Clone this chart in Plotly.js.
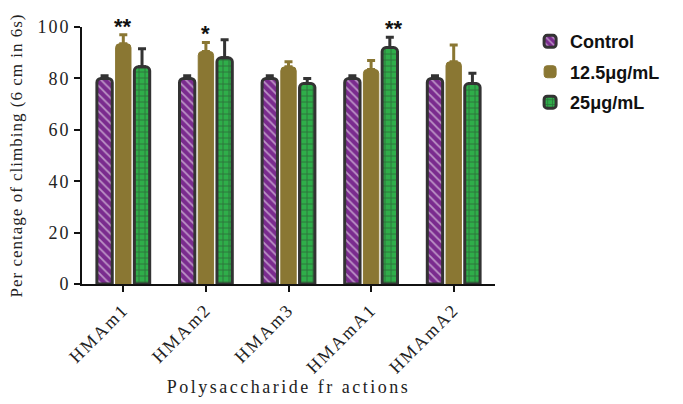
<!DOCTYPE html>
<html>
<head>
<meta charset="utf-8">
<script src="https://cdn.plot.ly/plotly-3.0.1.min.js"></script>
<style>
html,body{margin:0;padding:0;background:#fff;}
#chart{width:683px;height:404px;}
#chart .xtick text{letter-spacing:2px;}
#chart .ytick text{letter-spacing:2px;}
#chart .xtitle{letter-spacing:2.5px;}
#chart .ytitle{letter-spacing:1px;}
</style>
</head>
<body>
<div id="chart"></div>
<script>
const categories = ["HMAm1", "HMAm2", "HMAm3", "HMAmA1", "HMAmA2"];
const seriesNames = ["Control", "12.5\u03bcg/mL", "25\u03bcg/mL"];
const controlVals = [80, 80, 80, 80, 80];
const controlErr = [1, 1, 1, 1, 1];
const lowVals = [93.5, 90.5, 84.5, 83.5, 86.5];
const lowErr = [3.5, 3.5, 2.0, 3.5, 6.5];
const highVals = [84.5, 88, 78, 92, 78];
const highErr = [7, 7, 2, 4, 4];
const sigLabels = [["**", "*", "", "", ""], ["", "", "", "**", ""]]; // for 12.5 and 25 series

const borderCol = "#333333";
const traces = [
  {
    type: "bar", name: "<b>" + seriesNames[0] + "</b>", legendgroup: "a", x: categories, y: controlVals,
    error_y: {type: "data", array: controlErr, arrayminus: controlErr.map(() => 0), symmetric: false, color: borderCol, thickness: 3, width: 4},
    marker: {color: "#7a2b8e", line: {color: borderCol, width: 3}, cornerradius: 4,
      pattern: {shape: "\\", bgcolor: "#7a2b8e", fgcolor: "#ffffff", size: 6, solidity: 0.3, fillmode: "overlay"}}
  },
  {
    type: "bar", name: "<b>" + seriesNames[1] + "</b>", legendgroup: "b", x: categories, y: lowVals,
    error_y: {type: "data", array: lowErr, arrayminus: lowErr.map(() => 0), symmetric: false, color: "#8a7733", thickness: 3, width: 4},
    marker: {color: "#8a7733", line: {color: "#8a7733", width: 1}, cornerradius: 4}
  },
  {
    type: "bar", name: "<b>" + seriesNames[2] + "</b>", legendgroup: "c", x: categories, y: highVals,
    error_y: {type: "data", array: highErr, arrayminus: highErr.map(() => 0), symmetric: false, color: borderCol, thickness: 3, width: 4},
    marker: {color: "#2fae4a", line: {color: borderCol, width: 3}, cornerradius: 4,
      pattern: {shape: "+", bgcolor: "#2fae4a", fgcolor: "#2a3a2c", size: 6, solidity: 0.3, fillmode: "overlay"}}
  }
];

const annotations = [];
const shifts = [0, 22.5];
const vals = [lowVals, highVals];
const errs = [lowErr, highErr];
for (let s = 0; s < 2; s++) {
  for (let i = 0; i < categories.length; i++) {
    if (sigLabels[s][i]) {
      annotations.push({
        x: categories[i], y: vals[s][i] + errs[s][i], xref: "x", yref: "y",
        text: "<b>" + sigLabels[s][i] + "</b>", showarrow: false, yanchor: "bottom", xshift: shifts[s], yshift: -6,
        font: {family: "Liberation Sans, Arial, sans-serif", size: 22, color: "#111"}
      });
    }
  }
}

const layout = {
  width: 683, height: 404,
  margin: {l: 82, r: 188, t: 27, b: 120},
  paper_bgcolor: "#ffffff", plot_bgcolor: "#ffffff",
  barmode: "group", bargap: 0.32, bargroupgap: 0.18,
  showlegend: true,
  legend: {x: 1.085, y: 1.015, xanchor: "left", yanchor: "top", traceorder: "grouped",
    font: {family: "Liberation Sans, Arial, sans-serif", size: 18, color: "#111"},
    tracegroupgap: 4},
  font: {family: "Liberation Serif, Times New Roman, serif", color: "#222"},
  xaxis: {
    type: "category", tickangle: -45, showline: true, linecolor: "#111", linewidth: 2,
    ticks: "outside", ticklen: 6, tickwidth: 2, tickcolor: "#111",
    tickfont: {family: "Liberation Serif, serif", size: 18, color: "#222"},
    title: {text: "Polysaccharide fr actions", font: {family: "Liberation Serif, serif", size: 18, color: "#222"}, standoff: 12},
    showgrid: false, zeroline: false
  },
  yaxis: {
    range: [0, 100], dtick: 20, showline: true, linecolor: "#111", linewidth: 2,
    ticks: "outside", ticklen: 6, tickwidth: 2, tickcolor: "#111",
    tickfont: {family: "Liberation Serif, serif", size: 18, color: "#222"},
    title: {text: "Per centage of climbing (6 cm in 6s)", font: {family: "Liberation Serif, serif", size: 17, color: "#222"}, standoff: 16},
    showgrid: false, zeroline: false
  },
  annotations: annotations
};

Plotly.newPlot("chart", traces, layout, {displayModeBar: false, staticPlot: true});
</script>
</body>
</html>
